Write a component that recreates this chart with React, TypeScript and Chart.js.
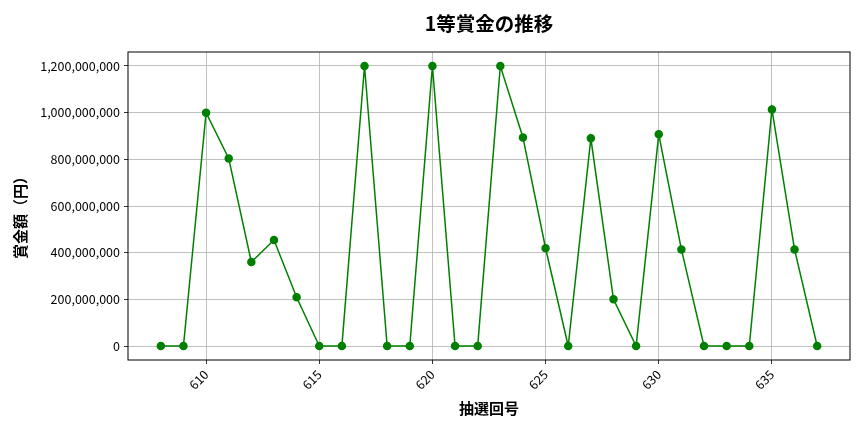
import React, { useEffect, useRef } from "react";
import Chart from "chart.js/auto";

// 抽選回号 and 1等賞金 (円)
const draws: number[] = [
  608, 609, 610, 611, 612, 613, 614, 615, 616, 617, 618, 619, 620, 621, 622,
  623, 624, 625, 626, 627, 628, 629, 630, 631, 632, 633, 634, 635, 636, 637,
];
const prizes: number[] = [
  0, 0, 1000000000, 804000000, 360000000, 454000000, 209000000, 0, 0,
  1200000000, 0, 0, 1200000000, 0, 0, 1200000000, 894000000, 419000000, 0,
  890000000, 200000000, 0, 907000000, 414000000, 0, 0, 0, 1014000000,
  414000000, 0,
];
const xTicks: number[] = [610, 615, 620, 625, 630, 635];
const yTicks: number[] = [
  0, 200000000, 400000000, 600000000, 800000000, 1000000000, 1200000000,
];

const titleText = "1等賞金の推移";
const xLabel = "抽選回号";
const yLabel = "賞金額（円）";
const FONT = "'Noto Sans CJK JP', 'Noto Sans', sans-serif";

const framePlugin = {
  id: "frameAndLabels",
  afterDraw(chart: Chart) {
    const { ctx, chartArea } = chart;
    ctx.save();
    ctx.strokeStyle = "#000";
    ctx.lineWidth = 1;
    ctx.strokeRect(
      chartArea.left,
      chartArea.top,
      chartArea.right - chartArea.left,
      chartArea.bottom - chartArea.top
    );
    const cx = (chartArea.left + chartArea.right) / 2;
    ctx.fillStyle = "#000";
    ctx.textAlign = "center";
    ctx.textBaseline = "middle";
    ctx.font = `bold 19.5px ${FONT}`;
    ctx.fillText(titleText, cx, 24);
    ctx.font = `bold 15px ${FONT}`;
    ctx.fillText(xLabel, cx, 408);
    ctx.translate(20, 214);
    ctx.rotate(-Math.PI / 2);
    ctx.fillText(yLabel, 0, 0);
    ctx.restore();
  },
};

function PrizeChart() {
  const canvasRef = useRef<HTMLCanvasElement>(null);
  const chartRef = useRef<Chart | null>(null);

  useEffect(() => {
    const ctx = canvasRef.current?.getContext("2d");
    if (!ctx) return;

    chartRef.current = new Chart(ctx, {
      type: "line",
      data: {
        datasets: [
          {
            data: draws.map((d, i) => ({ x: d, y: prizes[i] })),
            borderColor: "#008000",
            backgroundColor: "#008000",
            borderWidth: 1.5,
            pointRadius: 3.5,
            pointHoverRadius: 3.5,
            fill: false,
            tension: 0,
          },
        ],
      },
      options: {
        animation: false,
        responsive: false,
        devicePixelRatio: 1,
        layout: { padding: { top: 52, left: 0, right: 14, bottom: 0 } },
        plugins: {
          legend: { display: false },
          tooltip: { enabled: false },
          title: { display: false },
        },
        scales: {
          x: {
            type: "linear",
            min: 606.55,
            max: 638.45,
            afterFit: (scale: any) => {
              scale.height = 72;
            },
            afterBuildTicks: (scale: any) => {
              scale.ticks = xTicks.map((v) => ({ value: v }));
            },
            grid: {
              color: "#b0b0b0",
              tickColor: "#000",
              tickLength: 4,
              lineWidth: 0.8,
            },
            border: { display: false },
            ticks: {
              maxRotation: 45,
              minRotation: 45,
              color: "#000",
              font: { family: FONT, size: 12.5 },
              callback: (v: any) => String(v),
            },
          },
          y: {
            type: "linear",
            min: -60000000,
            max: 1260000000,
            afterFit: (scale: any) => {
              scale.width = 128;
            },
            afterBuildTicks: (scale: any) => {
              scale.ticks = yTicks.map((v) => ({ value: v }));
            },
            grid: {
              color: "#b0b0b0",
              tickColor: "#000",
              tickLength: 4,
              lineWidth: 0.8,
            },
            border: { display: false },
            ticks: {
              color: "#000",
              padding: 4,
              font: { family: FONT, size: 12.5 },
              callback: (v: any) => Number(v).toLocaleString("en-US"),
            },
          },
        },
      },
      plugins: [framePlugin],
    });

    return () => {
      if (chartRef.current) {
        chartRef.current.destroy();
      }
    };
  }, []);

  return <canvas ref={canvasRef} width={864} height={432}></canvas>;
}

export default function App() {
  return (
    <div
      style={{
        position: "fixed",
        top: 0,
        left: 0,
        width: 864,
        height: 432,
        background: "#fff",
      }}
    >
      <PrizeChart />
    </div>
  );
}
